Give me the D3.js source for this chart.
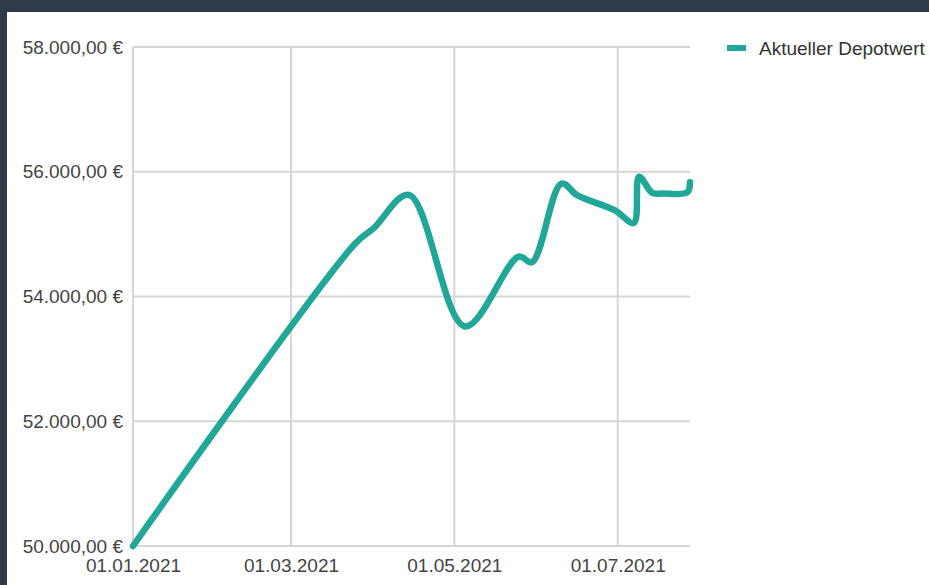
<!DOCTYPE html>
<html><head><meta charset="utf-8">
<script src="https://cdn.jsdelivr.net/npm/d3@7"></script>
<style>
html,body{margin:0;padding:0;background:#2f3b48;}
svg{display:block;}
</style></head>
<body>
<script>
const dates = ["2021-01-01","2021-03-25","2021-04-01","2021-04-14","2021-05-05","2021-05-25","2021-05-30","2021-06-10","2021-06-16","2021-06-30","2021-07-07","2021-07-09","2021-07-14","2021-07-18","2021-07-27","2021-07-28"];
const values = [50000,54850,55100,55630,53520,54640,54550,55810,55620,55380,55180,55920,55660,55650,55670,55830];
const yTicks = [50000,52000,54000,56000,58000];
const xTicks = ["2021-01-01","2021-03-01","2021-05-01","2021-07-01"];
const seriesName = "Aktueller Depotwert";

(function(){
const W = 929, H = 585;
const parse = d3.timeParse("%Y-%m-%d");
const data = dates.map((d,i)=>({date:parse(d), value:values[i]}));

const svg = d3.select("body").append("svg").attr("width",W).attr("height",H);
svg.append("rect").attr("width",W).attr("height",H).attr("fill","#2f3b48");
svg.append("rect").attr("x",7).attr("y",12).attr("width",W-7).attr("height",H-12).attr("fill","#ffffff");

const pl=133, pr=690, pt=47, pb=546;
const x = d3.scaleTime().domain([parse(dates[0]), parse(dates[dates.length-1])]).range([pl,pr]);
const y = d3.scaleLinear().domain([50000,58000]).range([pb,pt]);

const loc = d3.formatLocale({decimal:",", thousands:".", grouping:[3], currency:[""," €"]});
const fmtY = v => loc.format(",.2f")(v) + " €";
const fmtX = d3.timeFormat("%d.%m.%Y");
const font = "'Liberation Sans', Arial, sans-serif";

svg.append("g").selectAll("line").data(yTicks).join("line")
  .attr("x1",pl).attr("x2",pr)
  .attr("y1",d=>y(d)).attr("y2",d=>y(d))
  .attr("stroke","#d6d6d6").attr("stroke-width",2);
svg.append("g").selectAll("line").data(xTicks).join("line")
  .attr("x1",d=>x(parse(d))).attr("x2",d=>x(parse(d)))
  .attr("y1",pt).attr("y2",pb)
  .attr("stroke","#d6d6d6").attr("stroke-width",2);

const yAxis = d3.axisLeft(y).tickValues(yTicks).tickFormat(fmtY).tickSize(0).tickPadding(10);
const gy = svg.append("g").attr("transform",`translate(${pl},0)`).call(yAxis);
gy.select(".domain").remove();
gy.selectAll("text").attr("font-family",font).attr("font-size",19).attr("fill","#444");

const xAxis = d3.axisBottom(x).tickValues(xTicks.map(parse)).tickFormat(fmtX).tickSize(0).tickPadding(13);
const gx = svg.append("g").attr("transform",`translate(0,${pb})`).call(xAxis);
gx.select(".domain").remove();
gx.selectAll("text").attr("font-family",font).attr("font-size",19).attr("fill","#444");

const line = d3.line().x(d=>x(d.date)).y(d=>y(d.value)).curve(d3.curveCatmullRom.alpha(0.5));
svg.append("path").datum(data).attr("d",line)
  .attr("fill","none").attr("stroke","#21a797").attr("stroke-width",6.5)
  .attr("stroke-linejoin","round").attr("stroke-linecap","round");

svg.append("rect").attr("x",727).attr("y",45).attr("width",19).attr("height",6).attr("fill","#21a797");
svg.append("text").attr("x",759).attr("y",48).attr("dy","0.35em")
  .attr("font-family",font).attr("font-size",19).attr("fill","#333").text(seriesName);
})();
</script>
</body></html>
